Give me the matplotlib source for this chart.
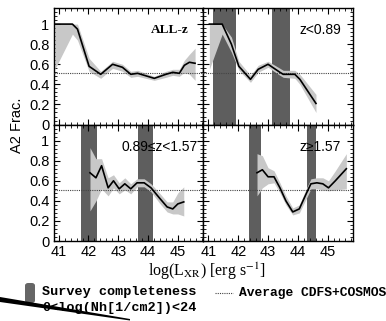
import numpy as np
import matplotlib
matplotlib.use('Agg')
import matplotlib.pyplot as plt
from matplotlib.ticker import MultipleLocator
from matplotlib.patches import FancyBboxPatch, Polygon
from matplotlib.lines import Line2D

plt.rcParams['font.family'] = ['Liberation Sans', 'DejaVu Sans']
plt.rcParams['mathtext.fontset'] = 'stix'

# data
all_x = [40.87, 41.46, 41.63, 42.02, 42.41, 42.81, 43.14, 43.42, 43.65, 44.21, 44.60, 44.83, 45.05, 45.22, 45.39, 45.58]
all_y = [1.0, 1.0, 0.95, 0.58, 0.50, 0.60, 0.57, 0.50, 0.51, 0.46, 0.50, 0.52, 0.51, 0.59, 0.62, 0.61]
all_lo = [0.55, 0.90, 0.84, 0.53, 0.46, 0.56, 0.53, 0.47, 0.48, 0.44, 0.47, 0.49, 0.48, 0.52, 0.50, 0.44]
all_hi = [1.0, 1.0, 1.0, 0.66, 0.53, 0.63, 0.60, 0.53, 0.54, 0.48, 0.53, 0.55, 0.55, 0.64, 0.70, 0.76]

lowz_x = [41.03, 41.46, 41.77, 42.02, 42.41, 42.67, 43.0, 43.40, 43.51, 43.90, 44.07, 44.61]
lowz_y = [1.0, 1.0, 0.80, 0.58, 0.45, 0.55, 0.60, 0.52, 0.50, 0.50, 0.45, 0.21]
lowz_lo = [0.55, 0.90, 0.72, 0.54, 0.42, 0.52, 0.57, 0.49, 0.47, 0.46, 0.40, 0.12]
lowz_hi = [1.0, 1.0, 0.87, 0.63, 0.49, 0.59, 0.63, 0.56, 0.54, 0.54, 0.50, 0.30]

midz_x = [42.05, 42.25, 42.44, 42.66, 42.84, 43.03, 43.22, 43.42, 43.63, 43.87, 44.10, 44.38, 44.64, 44.83, 45.0, 45.2]
midz_y = [0.68, 0.63, 0.75, 0.53, 0.60, 0.52, 0.57, 0.52, 0.58, 0.58, 0.53, 0.43, 0.34, 0.32, 0.37, 0.39]
midz_lo = [0.30, 0.40, 0.52, 0.45, 0.53, 0.47, 0.51, 0.47, 0.54, 0.54, 0.49, 0.38, 0.29, 0.27, 0.27, 0.25]
midz_hi = [0.93, 0.82, 0.82, 0.63, 0.66, 0.58, 0.63, 0.57, 0.62, 0.62, 0.57, 0.48, 0.39, 0.39, 0.48, 0.54]

highz_x = [42.63, 42.81, 43.0, 43.2, 43.4, 43.6, 43.83, 44.05, 44.28, 44.44, 44.64, 44.84, 45.03, 45.26, 45.63]
highz_y = [0.68, 0.71, 0.64, 0.64, 0.53, 0.40, 0.29, 0.32, 0.47, 0.57, 0.58, 0.57, 0.53, 0.60, 0.72]
highz_lo = [0.45, 0.53, 0.57, 0.58, 0.48, 0.36, 0.26, 0.28, 0.42, 0.52, 0.52, 0.51, 0.50, 0.51, 0.52]
highz_hi = [0.87, 0.85, 0.73, 0.70, 0.58, 0.45, 0.33, 0.36, 0.52, 0.62, 0.63, 0.63, 0.60, 0.70, 0.87]

# survey completeness bands (log L ranges)
lowz_compl = [(41.15, 41.94), (43.12, 43.74)]
midz_compl = [(41.74, 42.30), (43.67, 44.15)]
highz_compl = [(42.36, 42.75), (44.30, 44.61)]

avg_frac = 0.51

panels = [
    ('ALL-z', all_x, all_y, all_lo, all_hi, [], 0.90),
    ('z<0.89', lowz_x, lowz_y, lowz_lo, lowz_hi, lowz_compl, 0.92),
    ('0.89\u2264z<1.57', midz_x, midz_y, midz_lo, midz_hi, midz_compl, 0.965),
    ('z\u22651.57', highz_x, highz_y, highz_lo, highz_hi, highz_compl, 0.92),
]

fig, axes = plt.subplots(2, 2, figsize=(3.86, 3.21), dpi=100)
fig.subplots_adjust(left=0.139, right=0.915, top=0.975, bottom=0.249, wspace=0, hspace=0)

for ax, (label, x, y, lo, hi, compl, tx) in zip(axes.flat, panels):
    for a, b in compl:
        ax.axvspan(a, b, color='#5e5e5e', lw=0, zorder=1)
    ax.fill_between(x, lo, hi, color='#c8c8c8', lw=0, zorder=2)
    ax.plot(x, y, color='black', lw=1.2, zorder=4)
    ax.axhline(avg_frac, color='#444444', lw=0.8, ls=(0, (1, 1)), zorder=3)
    ax.set_xlim(40.83, 45.86)
    ax.set_ylim(0, 1.16)
    ax.xaxis.set_major_locator(MultipleLocator(1))
    ax.xaxis.set_minor_locator(MultipleLocator(0.2))
    ax.yaxis.set_major_locator(MultipleLocator(0.2))
    ax.yaxis.set_minor_locator(MultipleLocator(0.04))
    ax.tick_params(which='both', direction='in', top=True, right=True, labelsize=10.5, pad=3)
    ax.tick_params(which='major', length=4, width=0.8)
    ax.tick_params(which='minor', length=2, width=0.6)
    ax.yaxis.set_major_formatter(lambda v, p: '%g' % round(v, 2))
    if label == 'ALL-z':
        ax.text(tx, 0.81, label, transform=ax.transAxes, ha='right', va='center',
                fontsize=9.5, family='Liberation Serif', weight='bold', zorder=5)
    else:
        ax.text(tx, 0.81, label, transform=ax.transAxes, ha='right', va='center',
                fontsize=10, zorder=5)
    for s in ax.spines.values():
        s.set_linewidth(1.0)

for ax in axes[0]:
    ax.tick_params(labelbottom=False)
for ax in axes[:, 1]:
    ax.tick_params(labelleft=False)

fig.text(0.045, 0.61, 'A2 Frac.', rotation=90, ha='center', va='center', fontsize=10.5)
fig.text(0.535, 0.155, r'log(L$_{\rm XR}$) [erg s$^{-1}$]', ha='center', va='center',
         fontsize=11.5, family='Liberation Serif')

# legend
W, H = 386.0, 321.0
fig.patches.append(FancyBboxPatch((25 / W, 1 - 303 / H), 10 / W, 20 / H,
                                  boxstyle='round,pad=0,rounding_size=0.008',
                                  transform=fig.transFigure, color='#666666', lw=0))
fig.text(42 / W, 1 - 292 / H, 'Survey completeness', fontsize=9.7,
         family='Liberation Mono', weight='bold', va='center')
fig.text(42 / W, 1 - 308 / H, '0<log(Nh[1/cm2])<24', fontsize=9.7,
         family='Liberation Mono', weight='bold', va='center')
fig.lines.append(Line2D([215 / W, 233 / W], [1 - 293 / H, 1 - 293 / H], transform=fig.transFigure,
                        color='#444444', lw=0.8, ls=(0, (1, 1))))
fig.text(239 / W, 1 - 293 / H, 'Average CDFS+COSMOS', fontsize=9.4,
         family='Liberation Mono', weight='bold', va='center')

# dark stroke across the bottom-left corner
fig.patches.append(Polygon([(0, 1 - 297 / H), (130 / W, 1 - 319 / H), (130 / W, 1 - 320.5 / H), (0, 1 - 302 / H)],
                           closed=True, transform=fig.transFigure, color='black', lw=0))

fig.savefig('out.png', dpi=100)
